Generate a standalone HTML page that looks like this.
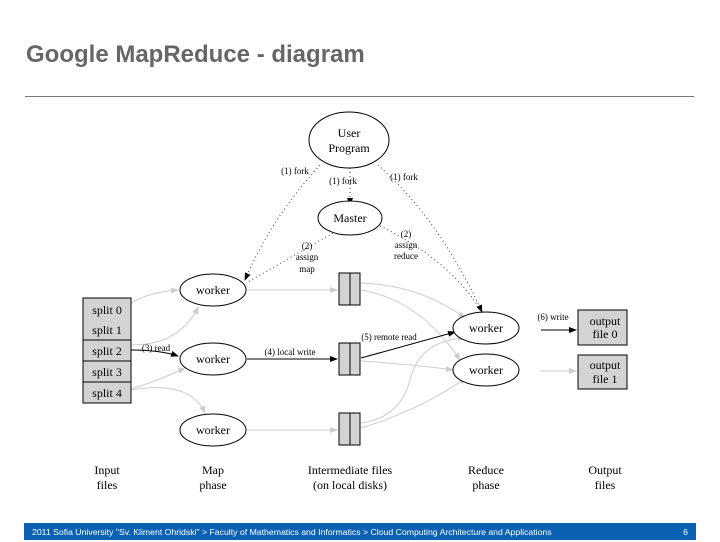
<!DOCTYPE html>
<html><head><style>
body{margin:0;width:720px;height:540px;background:#fff;overflow:hidden;position:relative;font-family:"Liberation Sans",sans-serif}
.t{position:absolute;left:26px;top:41px;font-size:24px;font-weight:bold;color:#666}
.hr{position:absolute;left:25px;top:96px;width:669px;height:1px;background:#777}
.f{position:absolute;left:24px;top:523px;width:672px;height:17px;background:#0b62b5;color:#fff;font-size:8.7px;line-height:19px}
</style></head><body>
<div class="t">Google MapReduce - diagram</div>
<div class="hr"></div>
<svg width="720" height="540" style="position:absolute;left:0;top:0" font-family="Liberation Serif,serif">
<defs>
<marker id="a" markerWidth="8" markerHeight="6" refX="7" refY="3" orient="auto"><path d="M0,0L8,3L0,6z" fill="#000"/></marker>
<marker id="g" markerWidth="8" markerHeight="6" refX="7" refY="3" orient="auto"><path d="M0,0L8,3L0,6z" fill="#ccc"/></marker>
</defs>
<g fill="none" stroke="#444" stroke-dasharray="1,3" stroke-width="1">
<path d="M320,165 Q270,220 245,280" marker-end="url(#a)"/>
<path d="M350,168 L350,205" marker-end="url(#a)"/>
<path d="M378,165 Q440,220 482,312" marker-end="url(#a)"/>
<path d="M333,233 L248,282"/>
<path d="M380,226 Q450,260 482,312"/>
</g>
<g fill="none" stroke="#ccc" stroke-width="1">
<path d="M131,303 Q150,292 178,290" marker-end="url(#g)"/>
<path d="M131,345 Q180,345 198,307" marker-end="url(#g)"/>
<path d="M131,389 Q160,380 185,368" marker-end="url(#g)"/>
<path d="M131,390 Q190,380 205,413" marker-end="url(#g)"/>
<path d="M247,290 L337,290" marker-end="url(#g)"/>
<path d="M247,430 L337,430" marker-end="url(#g)"/>
<path d="M361,283 Q420,285 465,318" marker-end="url(#g)"/>
<path d="M361,290 Q420,300 460,360" marker-end="url(#g)"/>
<path d="M361,361 Q420,365 453,370" marker-end="url(#g)"/>
<path d="M361,423 Q400,418 410,380 Q420,340 465,338" marker-end="url(#g)"/>
<path d="M361,428 Q420,410 466,378" marker-end="url(#g)"/>
<path d="M540,371 L576,371" marker-end="url(#g)"/>
</g>
<g fill="none" stroke="#000" stroke-width="1">
<path d="M131,350 Q160,350 178,356" marker-end="url(#a)"/>
<path d="M247,359 L337,359" marker-end="url(#a)"/>
<path d="M361,358 L455,332" marker-end="url(#a)"/>
<path d="M541,330 L576,330" marker-end="url(#a)"/>
</g>
<g fill="#fff" stroke="#000">
<ellipse cx="349" cy="140" rx="40" ry="28"/>
<ellipse cx="350" cy="218" rx="32" ry="17"/>
<ellipse cx="213" cy="290" rx="33" ry="16"/>
<ellipse cx="213" cy="359" rx="33" ry="16"/>
<ellipse cx="213" cy="430" rx="33" ry="16"/>
<ellipse cx="486" cy="328" rx="33" ry="16"/>
<ellipse cx="486" cy="370" rx="33" ry="16"/>
</g>
<g fill="#d3d3d3" stroke="#000">
<rect x="83" y="298" width="48" height="42"/>
<rect x="83" y="340" width="48" height="21"/>
<rect x="83" y="361" width="48" height="21"/>
<rect x="83" y="382" width="48" height="21"/>
<rect x="339" y="273" width="11" height="32"/><rect x="350" y="273" width="10" height="32"/>
<rect x="339" y="343" width="11" height="32"/><rect x="350" y="343" width="10" height="32"/>
<rect x="339" y="413" width="11" height="32"/><rect x="350" y="413" width="10" height="32"/>
<rect x="578" y="310" width="49" height="35"/>
<rect x="578" y="355" width="49" height="34"/>
</g>
<g font-size="12" text-anchor="middle" fill="#000">
<text x="349" y="137">User</text><text x="349" y="152">Program</text>
<text x="350" y="222">Master</text>
<text x="213" y="294">worker</text><text x="213" y="363">worker</text><text x="213" y="434">worker</text>
<text x="486" y="332">worker</text><text x="486" y="374">worker</text>
<text x="107" y="314">split 0</text><text x="107" y="334">split 1</text>
<text x="107" y="355">split 2</text><text x="107" y="376">split 3</text><text x="107" y="397">split 4</text>
<text x="605" y="325">output</text><text x="605" y="338">file 0</text>
<text x="605" y="369">output</text><text x="605" y="383">file 1</text>
<text x="107" y="474">Input</text><text x="107" y="489">files</text>
<text x="213" y="474">Map</text><text x="213" y="489">phase</text>
<text x="350" y="474">Intermediate files</text><text x="350" y="489">(on local disks)</text>
<text x="486" y="474">Reduce</text><text x="486" y="489">phase</text>
<text x="605" y="474">Output</text><text x="605" y="489">files</text>
</g>
<g font-size="9" fill="#000" text-anchor="middle">
<text x="295" y="174">(1) fork</text>
<text x="343" y="184">(1) fork</text>
<text x="404" y="180">(1) fork</text>
<text x="307" y="249">(2)</text><text x="307" y="260">assign</text><text x="307" y="272">map</text>
<text x="406" y="237">(2)</text><text x="406" y="248">assign</text><text x="406" y="259">reduce</text>
<text x="156" y="351">(3) read</text>
<text x="290" y="355">(4) local write</text>
<text x="389" y="340">(5) remote read</text>
<text x="553" y="320">(6) write</text>
</g>
</svg>
<div class="f"><span style="position:absolute;left:8px">2011 Sofia University "Sv. Kliment Ohridski" &gt; Faculty of Mathematics and Informatics &gt; Cloud Computing Architecture and Applications</span><span style="position:absolute;right:8px">6</span></div>
</body></html>
